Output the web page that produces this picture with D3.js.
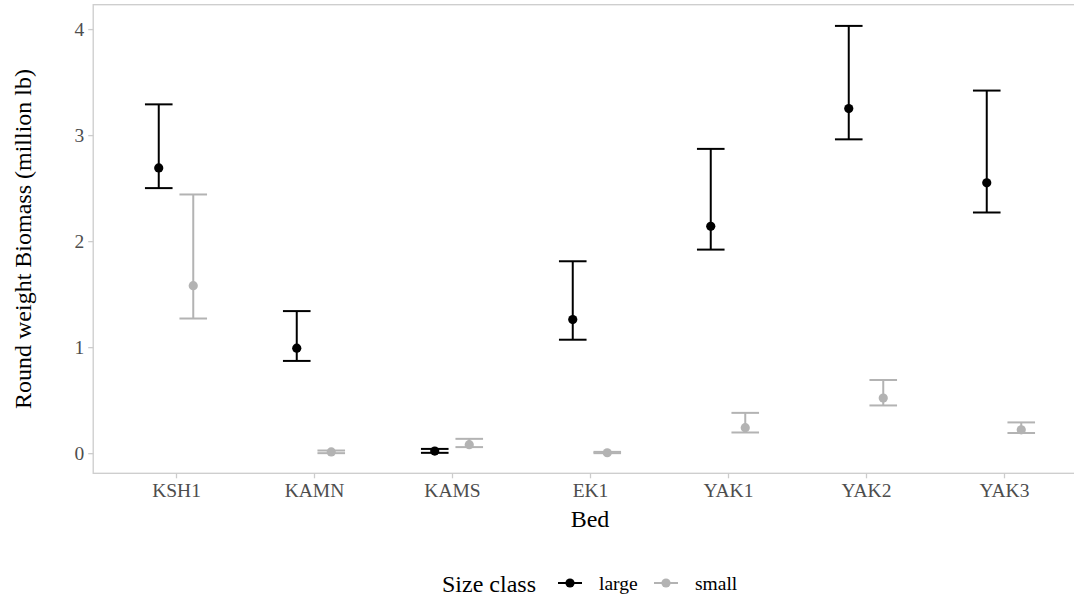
<!DOCTYPE html>
<html>
<head>
<meta charset="utf-8">
<script src="https://cdn.jsdelivr.net/npm/d3@7"></script>
<style>
  html, body { margin: 0; padding: 0; background: #fff; }
  svg text { font-family: "Liberation Serif", "Times New Roman", "DejaVu Serif", serif; }
</style>
</head>
<body>
<svg id="chart" width="1074" height="598"></svg>
<script>
// Bed categories and biomass estimates (million lb) with interval bounds
const beds = ["KSH1", "KAMN", "KAMS", "EK1", "YAK1", "YAK2", "YAK3"];
const largeEst = [2.69, 0.99, 0.02, 1.26, 2.14, 3.25, 2.55];
const largeLo  = [2.50, 0.87, 0.003, 1.07, 1.92, 2.96, 2.27];
const largeHi  = [3.29, 1.34, 0.04, 1.81, 2.87, 4.03, 3.42];
const smallEst = [1.58, 0.012, 0.08, 0.004, 0.24, 0.52, 0.22];
const smallLo  = [1.27, 0.0, 0.057, 0.0, 0.195, 0.45, 0.19];
const smallHi  = [2.44, 0.025, 0.135, 0.012, 0.38, 0.69, 0.29];
const sizeClasses = ["large", "small"];
const yTicks = [0, 1, 2, 3, 4];

const colors = { large: "#000000", small: "#b3b3b3" };
const serif = "'Liberation Serif', 'Times New Roman', 'DejaVu Serif', serif";

const svg = d3.select("#chart");

// scales
const x = d3.scalePoint().domain(beds).range([176, 1004]);
const step = x.step();
const yDomain = [-0.19, 4.23];
const y = d3.scaleLinear().domain(yDomain).range([473.3, 4.7]);

const panelLeft = x(beds[0]) - 0.6 * step;
const panelRight = x(beds[beds.length - 1]) + 0.6 * step;
const panelTop = y(yDomain[1]);
const panelBottom = y(yDomain[0]);

const dodge = d3.scalePoint().domain(sizeClasses).range([-0.125 * step, 0.125 * step]);
const capHalf = 0.1 * step;

// series records
const series = [
  { key: "large", est: largeEst, lo: largeLo, hi: largeHi },
  { key: "small", est: smallEst, lo: smallLo, hi: smallHi }
];
const rows = [];
series.forEach(s => beds.forEach((b, i) => rows.push({
  bed: b, cls: s.key, est: s.est[i], lo: s.lo[i], hi: s.hi[i]
})));

// panel border
svg.append("rect")
  .attr("x", panelLeft).attr("y", panelTop)
  .attr("width", panelRight - panelLeft).attr("height", panelBottom - panelTop)
  .attr("fill", "none").attr("stroke", "#cccccc").attr("stroke-width", 1.3);

// y axis
const yAxis = svg.append("g")
  .attr("transform", `translate(${panelLeft},0)`)
  .call(d3.axisLeft(y).tickValues(yTicks).tickSize(5).tickPadding(4).tickFormat(d3.format("d")))
  .attr("font-family", serif);
yAxis.select(".domain").remove();
yAxis.selectAll(".tick line").attr("stroke", "#cccccc").attr("stroke-width", 1.3);
yAxis.selectAll(".tick text")
  .attr("fill", "#4d4d4d").attr("font-size", "19.5px").attr("font-family", serif);

// x axis
const xAxis = svg.append("g")
  .attr("transform", `translate(0,${panelBottom})`)
  .call(d3.axisBottom(x).tickSize(5).tickPadding(5))
  .attr("font-family", serif);
xAxis.select(".domain").remove();
xAxis.selectAll(".tick line").attr("stroke", "#cccccc").attr("stroke-width", 1.3);
xAxis.selectAll(".tick text")
  .attr("fill", "#4d4d4d").attr("font-size", "19.5px").attr("font-family", serif);

// axis titles
svg.append("text")
  .attr("x", (panelLeft + panelRight) / 2).attr("y", 527)
  .attr("text-anchor", "middle").attr("font-size", "24px").attr("font-family", serif)
  .attr("fill", "#000")
  .text("Bed");
svg.append("text")
  .attr("transform", `translate(31,${(panelTop + panelBottom) / 2}) rotate(-90)`)
  .attr("text-anchor", "middle").attr("font-size", "24px").attr("font-family", serif)
  .attr("fill", "#000")
  .text("Round weight Biomass (million lb)");

// error bars and points
const marks = svg.append("g");
const g = marks.selectAll("g.bar").data(rows).join("g")
  .attr("class", "bar")
  .attr("transform", d => `translate(${x(d.bed) + dodge(d.cls)},0)`);

g.append("line")
  .attr("x1", 0).attr("x2", 0)
  .attr("y1", d => y(d.lo)).attr("y2", d => y(d.hi))
  .attr("stroke", d => colors[d.cls]).attr("stroke-width", 2);
g.append("line")
  .attr("x1", -capHalf).attr("x2", capHalf)
  .attr("y1", d => y(d.hi)).attr("y2", d => y(d.hi))
  .attr("stroke", d => colors[d.cls]).attr("stroke-width", 2);
g.append("line")
  .attr("x1", -capHalf).attr("x2", capHalf)
  .attr("y1", d => y(d.lo)).attr("y2", d => y(d.lo))
  .attr("stroke", d => colors[d.cls]).attr("stroke-width", 2);
g.append("circle")
  .attr("cx", 0).attr("cy", d => y(d.est)).attr("r", 4.6)
  .attr("fill", d => colors[d.cls]);

// legend
const legend = svg.append("g").attr("transform", "translate(0,583)");
legend.append("text")
  .attr("x", 442).attr("y", 8.5)
  .attr("font-size", "24px").attr("font-family", serif).attr("fill", "#000")
  .text("Size class");
const keyX = { large: 570, small: 666 };
sizeClasses.forEach(c => {
  const k = legend.append("g").attr("transform", `translate(${keyX[c]},0)`);
  k.append("line").attr("x1", -12).attr("x2", 12).attr("y1", 0).attr("y2", 0)
    .attr("stroke", colors[c]).attr("stroke-width", 2);
  k.append("circle").attr("r", 4.6).attr("fill", colors[c]);
  legend.append("text")
    .attr("x", keyX[c] + 29).attr("y", 6.5)
    .attr("font-size", "19.5px").attr("font-family", serif).attr("fill", "#000")
    .text(c);
});
</script>
</body>
</html>
